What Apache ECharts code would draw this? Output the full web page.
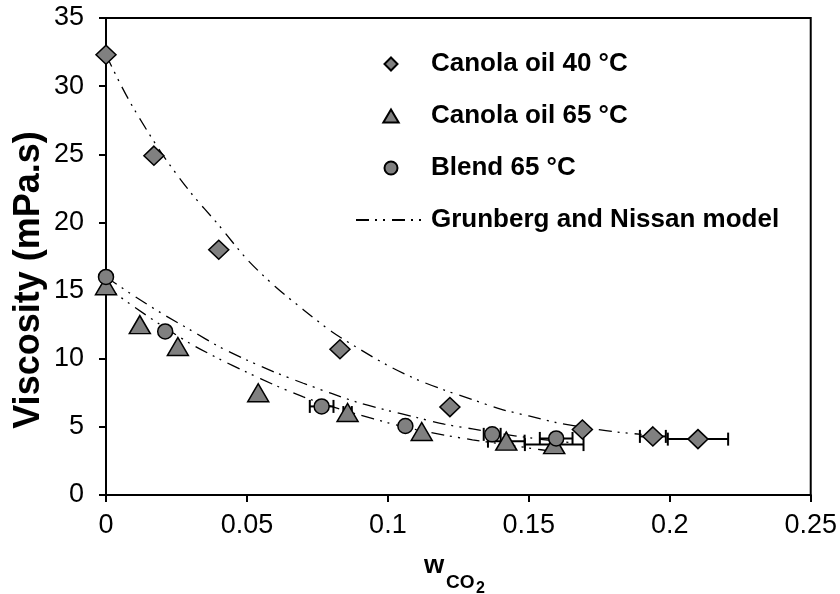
<!DOCTYPE html>
<html>
<head>
<meta charset="utf-8">
<script src="https://cdn.jsdelivr.net/npm/echarts@6/dist/echarts.min.js"></script>
<style>
  html, body { margin: 0; padding: 0; background: #fff; }
  #main { width: 840px; height: 594px; }
</style>
</head>
<body>
<div id="main"></div>
<script>
const canola40X = [0, 0.017, 0.040, 0.083, 0.122, 0.169, 0.194, 0.210]
const canola40Y = [32.3, 24.9, 18.0, 10.7, 6.45, 4.8, 4.3, 4.1]
const canola40Err = [0, 0, 0, 0, 0, 0, 0.0046, 0.0107]

const canola65X = [0, 0.012, 0.0255, 0.054, 0.0857, 0.112, 0.142, 0.159]
const canola65Y = [15.35, 12.5, 10.9, 7.5, 6.05, 4.66, 3.95, 3.7]
const canola65Err = [0, 0, 0, 0, 0.0015, 0, 0.0065, 0.0104]

const blendX = [0, 0.021, 0.0765, 0.1062, 0.137, 0.1597]
const blendY = [16.0, 12.0, 6.5, 5.06, 4.45, 4.15]
const blendErr = [0, 0, 0.0042, 0, 0.003, 0.0058]

// Grunberg and Nissan model curves
const model40X = [0, 0.005, 0.01, 0.02, 0.03, 0.04, 0.05, 0.06, 0.07, 0.08, 0.09, 0.10, 0.11, 0.12, 0.13, 0.14, 0.15, 0.16, 0.17, 0.18, 0.19]
const model40Y = [32.3, 30.2, 28.3, 25.0, 22.2, 19.8, 17.3, 15.3, 13.6, 12.0, 10.7, 9.5, 8.5, 7.7, 7.0, 6.3, 5.8, 5.3, 4.95, 4.65, 4.45]
const modelBlendX = [0, 0.01, 0.02, 0.03, 0.04, 0.05, 0.06, 0.07, 0.08, 0.09, 0.10, 0.11, 0.12, 0.13, 0.14, 0.15, 0.16, 0.165]
const modelBlendY = [16.0, 14.6, 13.3, 12.1, 10.9, 9.9, 9.0, 8.2, 7.45, 6.75, 6.2, 5.7, 5.2, 4.85, 4.5, 4.2, 3.95, 3.85]
const model65X = [0, 0.01, 0.02, 0.03, 0.04, 0.05, 0.06, 0.07, 0.08, 0.09, 0.10, 0.11, 0.12, 0.13, 0.14, 0.15, 0.16]
const model65Y = [15.3, 13.8, 12.4, 11.1, 10.0, 9.0, 8.05, 7.2, 6.5, 5.87, 5.3, 4.8, 4.4, 4.05, 3.75, 3.45, 3.15]

const xTicks = [0, 0.05, 0.1, 0.15, 0.2, 0.25]
const yTicks = [0, 5, 10, 15, 20, 25, 30, 35]

const FONT = "'Liberation Sans', Arial, sans-serif"
const GRAY = '#808080'
const MODEL = 'Grunberg and Nissan model'

function pairs(xs, ys) {
  return xs.map(function (x, i) { return [x, ys[i]] })
}
function errData(xs, ys, es) {
  const out = []
  for (let i = 0; i < xs.length; i++) {
    if (es[i] > 0) out.push([xs[i], ys[i], xs[i] - es[i], xs[i] + es[i]])
  }
  return out
}
function renderErr(params, api) {
  const y = api.value(1)
  const l = api.coord([api.value(2), y])
  const r = api.coord([api.value(3), y])
  const cap = 6.5
  const st = { stroke: '#000', lineWidth: 2 }
  return {
    type: 'group',
    children: [
      { type: 'line', shape: { x1: l[0], y1: l[1], x2: r[0], y2: r[1] }, style: st },
      { type: 'line', shape: { x1: l[0], y1: l[1] - cap, x2: l[0], y2: l[1] + cap }, style: st },
      { type: 'line', shape: { x1: r[0], y1: r[1] - cap, x2: r[0], y2: r[1] + cap }, style: st }
    ]
  }
}
function modelLine(xs, ys) {
  return {
    name: MODEL,
    type: 'line',
    data: pairs(xs, ys),
    smooth: 0.3,
    showSymbol: false,
    symbol: 'none',
    z: 1,
    lineStyle: { color: '#000', width: 1.3, type: [13, 6, 2, 6, 2, 7] },
    itemStyle: { color: '#000' }
  }
}
function scatter(name, xs, ys, symbol, size) {
  return {
    name: name,
    type: 'scatter',
    data: pairs(xs, ys),
    symbol: symbol,
    symbolSize: size,
    z: 4,
    itemStyle: { color: GRAY, borderColor: '#000', borderWidth: 1.5, opacity: 1 }
  }
}
function errSeries(xs, ys, es) {
  return {
    type: 'custom',
    renderItem: renderErr,
    data: errData(xs, ys, es),
    encode: { x: [0, 2, 3], y: 1 },
    z: 3,
    silent: true
  }
}

const chart = echarts.init(document.getElementById('main'))
const option = {
  backgroundColor: '#fff',
  animation: false,
  textStyle: { fontFamily: FONT },
  grid: {
    left: 106, right: 28, top: 18, bottom: 99,
    show: true, borderColor: '#000', borderWidth: 2
  },
  legend: {
    orient: 'vertical',
    left: 355,
    top: 51,
    padding: 0,
    itemWidth: 70,
    itemHeight: 13,
    itemGap: 26,
    symbolKeepAspect: true,
    textStyle: { fontFamily: FONT, fontSize: 26, fontWeight: 'bold', color: '#000' },
    data: [
      { name: 'Canola oil 40 °C', icon: 'path://M6.5,0L13,6.5L6.5,13L0,6.5Z' },
      { name: 'Canola oil 65 °C', icon: 'path://M6.5,0L13,11L0,11Z' },
      { name: 'Blend 65 °C', icon: 'circle' },
      { name: MODEL, icon: 'inherit', itemStyle: { opacity: 0 } }
    ]
  },
  xAxis: {
    type: 'value',
    min: 0, max: 0.25, interval: 0.05,
    axisLine: { lineStyle: { color: '#000', width: 2 } },
    axisTick: { show: true, length: 7, lineStyle: { color: '#000', width: 2 } },
    splitLine: { show: false },
    axisLabel: {
      color: '#000', fontSize: 27, fontFamily: FONT, margin: 17,
      formatter: function (v) { return xTicks.indexOf(v) >= 0 ? String(v) : '' }
    }
  },
  yAxis: {
    type: 'value',
    min: 0, max: 35, interval: 5,
    axisLine: { lineStyle: { color: '#000', width: 2 } },
    axisTick: { show: true, length: 7, lineStyle: { color: '#000', width: 2 } },
    splitLine: { show: false },
    axisLabel: {
      color: '#000', fontSize: 27, fontFamily: FONT, margin: 22,
      formatter: function (v) { return yTicks.indexOf(v) >= 0 ? String(v) : '' }
    }
  },
  graphic: [
    {
      type: 'text', x: 29, y: 280, rotation: Math.PI / 2,
      style: { text: 'Viscosity (mPa.s)', font: 'bold 36px ' + FONT, fill: '#000', align: 'center', verticalAlign: 'middle' }
    },
    {
      type: 'text', x: 424, y: 566,
      style: { text: 'w', font: 'bold 26px ' + FONT, fill: '#000', align: 'left', verticalAlign: 'middle' }
    },
    {
      type: 'text', x: 446, y: 583,
      style: { text: 'CO', font: 'bold 19px ' + FONT, fill: '#000', align: 'left', verticalAlign: 'middle' }
    },
    {
      type: 'text', x: 476, y: 589,
      style: { text: '2', font: 'bold 16px ' + FONT, fill: '#000', align: 'left', verticalAlign: 'middle' }
    }
  ],
  series: [
    modelLine(model40X, model40Y),
    modelLine(modelBlendX, modelBlendY),
    modelLine(model65X, model65Y),
    errSeries(canola40X, canola40Y, canola40Err),
    errSeries(canola65X, canola65Y, canola65Err),
    errSeries(blendX, blendY, blendErr),
    scatter('Canola oil 40 °C', canola40X, canola40Y, 'diamond', [20, 19]),
    scatter('Canola oil 65 °C', canola65X, canola65Y, 'triangle', [21, 18]),
    scatter('Blend 65 °C', blendX, blendY, 'circle', 15)
  ]
}
chart.setOption(option)
</script>
</body>
</html>
